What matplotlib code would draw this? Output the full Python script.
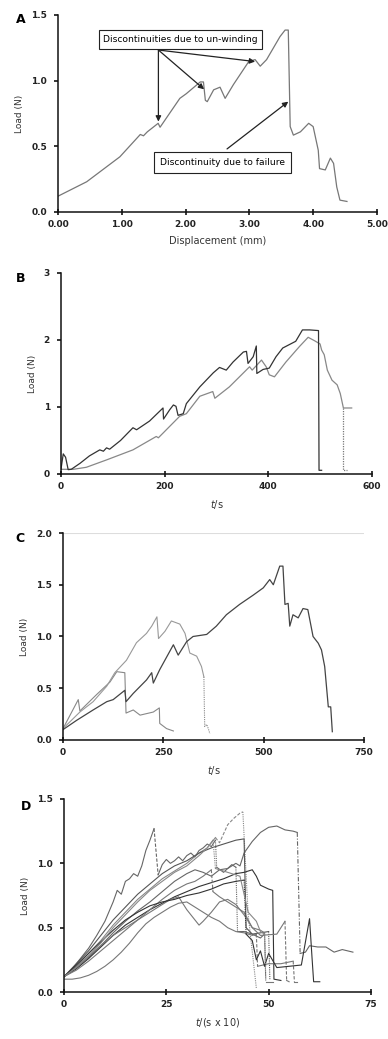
import numpy as np
import matplotlib
matplotlib.use("Agg")
import matplotlib.pyplot as plt
from matplotlib.ticker import FormatStrFormatter

# ---- panel A: load vs displacement
a_disp = [0.00, 0.45, 0.97, 1.29, 1.34, 1.40, 1.57, 1.60, 1.91, 2.01, 2.23, 2.28, 2.31,
          2.34, 2.44, 2.54, 2.62, 2.75, 2.99, 3.09, 3.17, 3.27, 3.48, 3.56, 3.61, 3.64,
          3.69, 3.80, 3.93, 4.00, 4.08, 4.10, 4.19, 4.27, 4.32, 4.37, 4.42, 4.53]
a_load = [0.12, 0.23, 0.42, 0.59, 0.58, 0.61, 0.675, 0.645, 0.865, 0.90, 0.99, 0.99, 0.85,
          0.84, 0.93, 0.95, 0.865, 0.97, 1.145, 1.16, 1.11, 1.16, 1.335, 1.385, 1.385, 0.65,
          0.585, 0.61, 0.675, 0.65, 0.47, 0.33, 0.32, 0.41, 0.37, 0.19, 0.09, 0.08]
a_unwind_pts = [(1.574, 0.688), (2.29, 0.934), (3.09, 1.145)]
a_unwind_from = (1.574, 1.233)
a_fail_from = (2.65, 0.48)
a_fail_to = (3.61, 0.84)

# ---- panel B: two specimens, load vs time
b1_t = [0, 4.5, 9, 14, 20, 37, 55, 75, 82, 88, 94, 115, 139, 146, 171, 197, 198, 210, 217,
        222, 226, 236, 242, 268, 294, 306, 319, 332, 352, 358, 361, 371, 377, 378, 390, 402,
        415, 428, 453, 466, 480, 497, 498, 503]
b1_y = [0.065, 0.30, 0.25, 0.065, 0.07, 0.16, 0.27, 0.36, 0.34, 0.39, 0.37, 0.50, 0.69, 0.66,
        0.79, 0.985, 0.82, 0.96, 1.03, 1.01, 0.875, 0.90, 1.05, 1.30, 1.51, 1.59, 1.55, 1.67,
        1.82, 1.83, 1.65, 1.75, 1.91, 1.50, 1.56, 1.58, 1.75, 1.88, 1.98, 2.15, 2.15, 2.14,
        0.055, 0.055]
b2_t = [0, 24, 49, 88, 139, 184, 188, 197, 229, 242, 268, 293, 297, 325, 351, 364, 369, 387,
        396, 402, 412, 434, 460, 477, 489, 500, 503, 508, 514, 523, 533, 539, 545, 561]
b2_y = [0.07, 0.07, 0.10, 0.21, 0.36, 0.56, 0.54, 0.61, 0.86, 0.90, 1.16, 1.23, 1.13, 1.30,
        1.50, 1.60, 1.55, 1.70, 1.60, 1.48, 1.45, 1.67, 1.90, 2.04, 1.99, 1.94, 1.85, 1.78,
        1.55, 1.40, 1.33, 1.20, 0.985, 0.985]
b2_fail_t = [545, 545, 552]
b2_fail_y = [0.985, 0.055, 0.055]

# ---- panel C: three specimens
c1_t = [0, 34, 75, 109, 125, 154, 157, 175, 208, 221, 225, 241, 275, 287, 308, 324, 358, 382,
        407, 440, 474, 499, 515, 524, 540, 548, 553, 561, 565, 573, 586, 598, 610, 623, 636,
        644, 652, 661, 667, 671]
c1_y = [0.10, 0.19, 0.29, 0.37, 0.39, 0.48, 0.37, 0.45, 0.58, 0.65, 0.55, 0.68, 0.92, 0.82,
        0.95, 1.00, 1.02, 1.10, 1.21, 1.31, 1.40, 1.47, 1.55, 1.50, 1.68, 1.68, 1.31, 1.32,
        1.10, 1.21, 1.18, 1.27, 1.26, 1.00, 0.935, 0.87, 0.71, 0.32, 0.32, 0.08]
c2_t = [0, 42, 75, 109, 129, 158, 183, 208, 221, 234, 238, 254, 270, 291, 304, 316, 333, 345, 351]
c2_y = [0.11, 0.27, 0.37, 0.52, 0.65, 0.77, 0.94, 1.03, 1.10, 1.19, 0.98, 1.05, 1.15, 1.12,
        1.03, 0.84, 0.81, 0.71, 0.61]
c2_fail_t = [351, 353, 358, 362, 366]
c2_fail_y = [0.61, 0.13, 0.15, 0.11, 0.06]
c3_t = [0, 38, 42, 84, 117, 134, 154, 157, 175, 192, 225, 240, 241, 258, 275]
c3_y = [0.11, 0.39, 0.28, 0.44, 0.56, 0.66, 0.65, 0.26, 0.29, 0.24, 0.27, 0.31, 0.16, 0.11, 0.087]

# ---- panel D: ten specimens (t in s x 10); style codes per segment
d1_t = [0, 2, 4, 6, 8, 10, 12, 13, 14, 15, 16, 17, 18, 19, 20, 21, 22, 23, 24, 25, 26, 27, 28,
        29, 30, 31, 32, 33, 34, 35, 36, 37, 37.3, 39, 41, 42, 42.4, 44, 46, 48, 49, 49.3]
d1_y = [0.12, 0.18, 0.26, 0.34, 0.44, 0.55, 0.70, 0.79, 0.76, 0.86, 0.88, 0.92, 0.90, 0.98,
        1.10, 1.18, 1.27, 0.91, 0.99, 1.03, 1.00, 1.02, 1.05, 1.02, 1.06, 1.08, 1.05, 1.10, 1.12,
        1.15, 1.13, 1.18, 0.97, 0.93, 0.99, 0.97, 0.47, 0.47, 0.45, 0.42, 0.45, 0.10]
d1_s = "s" * 16 + "d" + "s" * 14 + "o" + "sss" + "o" + "ssss" + "o"
d2_t = [0, 3, 6, 9, 12, 15, 18, 21, 24, 27, 30, 33, 35, 37, 38, 40, 41.5, 43, 43.7, 45, 47]
d2_y = [0.12, 0.20, 0.30, 0.40, 0.52, 0.62, 0.72, 0.80, 0.88, 0.94, 1.00, 1.08, 1.12, 1.20,
        1.16, 1.30, 1.35, 1.39, 1.40, 0.60, 0.03]
d2_s = "s" * 13 + "ddddd" + "oo"
d3_t = [0, 3, 6, 9, 12, 15, 18, 21, 24, 27, 30, 32, 34, 36, 38, 40, 42, 43, 44, 46, 48, 50,
        52, 54, 56, 57, 57.7, 59, 60, 62, 64, 66, 68, 70.6]
d3_y = [0.12, 0.19, 0.27, 0.36, 0.46, 0.55, 0.63, 0.70, 0.78, 0.86, 0.92, 0.95, 0.93, 0.90,
        0.95, 0.96, 1.00, 0.98, 1.08, 1.17, 1.24, 1.28, 1.29, 1.26, 1.25, 1.24, 0.30, 0.31,
        0.36, 0.35, 0.35, 0.31, 0.33, 0.31]
d3_s = "s" * 25 + "x" + "s" * 7
d4_t = [0, 3, 6, 9, 12, 15, 18, 21, 24, 27, 30, 33, 36, 39, 42, 44, 44.5, 46, 48, 50, 50.3]
d4_y = [0.12, 0.22, 0.32, 0.44, 0.56, 0.66, 0.76, 0.84, 0.92, 0.98, 1.02, 1.08, 1.12, 1.15,
        1.18, 1.19, 0.50, 0.45, 0.46, 0.47, 0.10]
d4_s = "s" * 15 + "s" + "sss" + "o"
d5_t = [0, 3, 6, 9, 12, 15, 18, 21, 24, 27, 30, 33, 36, 39, 42, 44, 46, 47, 48, 50, 51,
        51.3, 53]
d5_y = [0.12, 0.18, 0.26, 0.35, 0.44, 0.52, 0.58, 0.64, 0.69, 0.74, 0.78, 0.82, 0.85, 0.88,
        0.92, 0.93, 0.95, 0.90, 0.83, 0.80, 0.79, 0.10, 0.09]
d5_s = "s" * 22
d6_t = [0, 3, 6, 9, 12, 15, 18, 21, 24, 27, 30, 32, 34, 36, 36.4, 38, 40, 42, 44, 46, 48,
        49, 49.3, 51]
d6_y = [0.12, 0.17, 0.24, 0.32, 0.40, 0.48, 0.56, 0.64, 0.72, 0.79, 0.84, 0.86, 0.90, 0.95,
        0.78, 0.74, 0.70, 0.66, 0.62, 0.50, 0.48, 0.46, 0.08, 0.08]
d6_s = "s" * 13 + "d" + "s" * 7 + "o" + "s"
d7_t = [0, 3, 6, 9, 12, 15, 18, 21, 24, 26, 28, 30, 31, 33, 34, 36, 38, 40, 42, 44, 46, 48,
        52, 54, 54.4, 55]
d7_y = [0.12, 0.20, 0.28, 0.36, 0.44, 0.50, 0.56, 0.62, 0.68, 0.72, 0.74, 0.64, 0.60, 0.52,
        0.55, 0.62, 0.70, 0.72, 0.68, 0.60, 0.50, 0.44, 0.45, 0.55, 0.09, 0.08]
d7_s = "s" * 23 + "d" + "s"
d8_t = [0, 2, 4, 6, 8, 10, 12, 14, 16, 18, 20, 22, 24, 26, 28, 30, 32, 34, 36, 38, 40, 42,
        44, 46, 47, 47.3, 50, 53, 56, 56.3, 57]
d8_y = [0.10, 0.10, 0.11, 0.13, 0.16, 0.20, 0.25, 0.31, 0.38, 0.46, 0.53, 0.58, 0.62, 0.66,
        0.69, 0.70, 0.66, 0.62, 0.58, 0.55, 0.50, 0.47, 0.46, 0.44, 0.45, 0.20, 0.22, 0.22,
        0.24, 0.08, 0.08]
d8_s = "s" * 24 + "d" + "sss" + "d" + "s"
d9_t = [0, 3, 6, 9, 12, 15, 18, 21, 24, 27, 30, 33, 36, 39, 42, 44, 44.5, 46, 47, 48, 49,
        50, 52, 55, 58, 59.5, 60, 60.6, 61, 62.5]
d9_y = [0.12, 0.21, 0.30, 0.39, 0.48, 0.56, 0.62, 0.67, 0.70, 0.72, 0.75, 0.77, 0.80, 0.84,
        0.86, 0.87, 0.45, 0.40, 0.25, 0.32, 0.20, 0.30, 0.19, 0.20, 0.21, 0.48, 0.57, 0.27,
        0.08, 0.08]
d9_s = "s" * 15 + "o" + "s" * 13
d10_t = [0, 3, 6, 9, 12, 15, 18, 21, 24, 27, 30, 33, 35, 36.4, 37, 39, 41, 43, 45, 47, 48,
         49, 49.3]
d10_y = [0.12, 0.19, 0.28, 0.38, 0.50, 0.60, 0.70, 0.79, 0.86, 0.93, 0.98, 1.06, 1.12, 1.18,
         0.96, 0.94, 0.92, 0.90, 0.62, 0.55, 0.47, 0.45, 0.20]
d10_s = "s" * 13 + "o" + "s" * 4 + "s" + "ss" + "o"

plt.rcParams['font.family'] = ['DejaVu Sans']
fig = plt.figure(figsize=(3.88, 10.39), dpi=100)

TICK = dict(fontsize=6.5, fontweight='bold', color='#222')


def style_axes(ax, xt, yt, xfmt, yfmt, xlabel, letter, lx, ly):
    for s in ['top', 'right']:
        ax.spines[s].set_visible(False)
    for s in ['left', 'bottom']:
        ax.spines[s].set_linewidth(1.1)
        ax.spines[s].set_color('#111')
    ax.set_xticks(xt)
    ax.set_yticks(yt)
    ax.xaxis.set_major_formatter(FormatStrFormatter(xfmt))
    ax.yaxis.set_major_formatter(FormatStrFormatter(yfmt))
    ax.tick_params(axis='x', direction='inout', length=5, width=1.1, pad=3)
    ax.tick_params(axis='y', direction='out', length=3, width=1.1, pad=5)
    for lab in ax.get_xticklabels() + ax.get_yticklabels():
        lab.set(**TICK)
    ax.set_xlim(xt[0], xt[-1])
    ax.set_ylim(yt[0], yt[-1])
    ax.set_ylabel('Load (N)', fontsize=6.5, color='#333', labelpad=5)
    ax.set_xlabel(xlabel, fontsize=7, color='#333', labelpad=5)
    fig.text(lx, ly, letter, fontsize=9, fontweight='bold', ha='left', va='center')


LS = {'s': '-', 'd': (0, (3, 1.5)), 'o': (0, (1, 1)), 'x': (0, (4, 1.5, 1, 1.5))}


def draw_styled(ax, t, y, codes, color, lw=0.8):
    start = 0
    for i in range(1, len(codes) + 1):
        if i == len(codes) or codes[i] != codes[start]:
            ax.plot(t[start:i + 1], y[start:i + 1], color=color, lw=lw,
                    linestyle=LS[codes[start]])
            start = i


# Panel A
axA = fig.add_axes([0.1495, 0.796, 0.822, 0.1896])
axA.plot(a_disp, a_load, color='#777', lw=0.9)
style_axes(axA, [0, 1, 2, 3, 4, 5], [0, 0.5, 1.0, 1.5], '%.2f', '%.1f',
           'Displacement (mm)', 'A', 0.04, 0.981)
box = dict(boxstyle='square,pad=0.5', fc='white', ec='#222', lw=0.8)
arr = dict(arrowstyle='-|>', color='#222', lw=0.9, mutation_scale=8, shrinkA=0, shrinkB=0)
axA.text(1.92, 1.313, 'Discontinuities due to un-winding', fontsize=6.6, ha='center',
         va='center', bbox=box, zorder=5)
for p in a_unwind_pts:
    axA.annotate('', xy=p, xytext=a_unwind_from, arrowprops=arr)
axA.text(2.58, 0.378, 'Discontinuity due to failure', fontsize=6.6, ha='center',
         va='center', bbox=dict(boxstyle='square,pad=0.65', fc='white', ec='#222', lw=0.8),
         zorder=5)
axA.annotate('', xy=a_fail_to, xytext=a_fail_from, arrowprops=arr)

# Panel B
axB = fig.add_axes([0.157, 0.5438, 0.8015, 0.1935])
axB.plot(b2_t, b2_y, color='#888', lw=0.9)
axB.plot(b2_fail_t, b2_fail_y, color='#777', lw=0.9, linestyle=(0, (1, 1)))
axB.plot(b1_t, b1_y, color='#333', lw=0.9)
style_axes(axB, [0, 200, 400, 600], [0, 1, 2, 3], '%d', '%d', '$t$/s', 'B', 0.04, 0.732)

# Panel C
axC = fig.add_axes([0.1624, 0.2878, 0.7758, 0.1992])
axC.axhline(2.0, color='#ddd', lw=0.8)
axC.plot(c3_t, c3_y, color='#888', lw=0.8)
axC.plot(c2_t, c2_y, color='#999', lw=0.8)
axC.plot(c2_fail_t, c2_fail_y, color='#888', lw=0.8, linestyle=(0, (1, 1)))
axC.plot(c1_t, c1_y, color='#444', lw=0.9)
style_axes(axC, [0, 250, 500, 750], [0, 0.5, 1.0, 1.5, 2.0], '%d', '%.1f', '$t$/s', 'C',
           0.04, 0.482)

# Panel D
axD = fig.add_axes([0.165, 0.0452, 0.791, 0.1858])
d_lines = [(d1_t, d1_y, d1_s, '#666'), (d2_t, d2_y, d2_s, '#888'),
           (d3_t, d3_y, d3_s, '#666'), (d4_t, d4_y, d4_s, '#555'),
           (d5_t, d5_y, d5_s, '#333'), (d6_t, d6_y, d6_s, '#777'),
           (d7_t, d7_y, d7_s, '#777'), (d8_t, d8_y, d8_s, '#777'),
           (d9_t, d9_y, d9_s, '#333'), (d10_t, d10_y, d10_s, '#888')]
for t, y, s, c in d_lines:
    draw_styled(axD, t, y, s, c)
style_axes(axD, [0, 25, 50, 75], [0, 0.5, 1.0, 1.5], '%d', '%.1f', '$t$/(s x 10)', 'D',
           0.055, 0.224)

fig.savefig('out.png', dpi=100)
